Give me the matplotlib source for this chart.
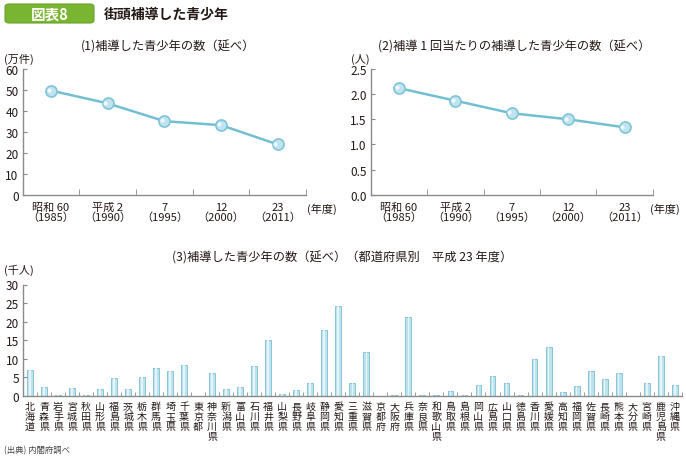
import numpy as np
import matplotlib.pyplot as plt
from matplotlib.patches import FancyBboxPatch

plt.rcParams['font.family'] = ['Noto Sans CJK JP', 'DejaVu Sans']

# data
years = ['昭和 60\n（1985）', '平成 2\n（1990）', '7\n（1995）', '12\n（2000）', '23\n（2011）']
youth_count = [49.7, 43.6, 35.1, 33.2, 24.0]   # 万件
per_guidance = [2.12, 1.87, 1.62, 1.50, 1.34]  # 人

prefs = ['北海道', '青森県', '岩手県', '宮城県', '秋田県', '山形県', '福島県', '茨城県',
         '栃木県', '群馬県', '埼玉県', '千葉県', '東京都', '神奈川県', '新潟県', '富山県',
         '石川県', '福井県', '山梨県', '長野県', '岐阜県', '静岡県', '愛知県', '三重県',
         '滋賀県', '京都府', '大阪府', '兵庫県', '奈良県', '和歌山県', '鳥取県', '島根県',
         '岡山県', '広島県', '山口県', '徳島県', '香川県', '愛媛県', '高知県', '福岡県',
         '佐賀県', '長崎県', '熊本県', '大分県', '宮崎県', '鹿児島県', '沖縄県']
pref_vals = [6.9, 2.4, 0.2, 2.1, 0.1, 1.9, 4.8, 1.8,
             5.1, 7.5, 6.7, 8.3, 0.0, 6.0, 1.8, 2.4,
             7.9, 14.9, 0.4, 1.5, 3.5, 17.8, 24.2, 3.4,
             11.9, 0.0, 0.1, 21.2, 0.1, 0.1, 1.2, 0.2,
             2.9, 5.3, 3.3, 0.2, 10.0, 13.2, 1.0, 2.6,
             6.7, 4.5, 6.1, 0.0, 3.5, 10.6, 2.8]

W, H = 686, 460
fig = plt.figure(figsize=(W / 100, H / 100), dpi=100)

line_c = '#72bfd3'
axis_c = '#8a8a8a'
txt_c = '#231815'


def fx(px):
    return px / W


def fy(py):
    return 1 - py / H


def style_axes(ax):
    ax.spines['top'].set_visible(False)
    ax.spines['right'].set_visible(False)
    for s in ('left', 'bottom'):
        ax.spines[s].set_color(axis_c)
        ax.spines[s].set_linewidth(1.0)
    ax.tick_params(axis='y', direction='in', length=3, color=axis_c,
                   labelsize=8.5, labelcolor=txt_c, pad=3)
    ax.patch.set_alpha(0)


def line_chart(left, right, vals, ymax, step, fmt):
    ax = fig.add_axes([fx(left), fy(195.7), fx(right - left), fy(70) - fy(195.7)])
    x = np.arange(len(vals))
    ax.plot(x, vals, color=line_c, lw=1.8, zorder=2)
    ax.plot(x, vals, 'o', ms=8, mfc='#bfe4ef', mec='#7fc4d7', mew=1.2, zorder=3)
    ax.plot(x - 0.04, np.array(vals) + ymax * 0.006, 'o', ms=3, mfc='white',
            mec='none', alpha=0.8, zorder=4)
    ax.set_xlim(-0.5, len(vals) - 0.5)
    ax.set_ylim(0, ymax)
    ticks = np.arange(0, ymax + step / 2, step)
    ax.set_yticks(ticks)
    ax.set_yticklabels([fmt.format(v) for v in ticks])
    ax.set_xticks(x)
    ax.set_xticklabels(years, fontsize=8, color=txt_c, linespacing=1.0)
    ax.set_xticks(np.arange(-0.5, len(vals)), minor=True)
    style_axes(ax)
    ax.tick_params(axis='x', which='major', length=0, pad=5)
    ax.tick_params(axis='x', which='minor', direction='in', length=4, color=axis_c)
    return ax


line_chart(22.7, 306, youth_count, 60, 10, '{:.0f}')
line_chart(370.7, 652.7, per_guidance, 2.5, 0.5, '{:.1f}')

# bar chart
ax3 = fig.add_axes([fx(23), fy(396.7), fx(681.7 - 23), fy(285.5) - fy(396.7)])
xb = np.arange(len(prefs))
ax3.bar(xb, pref_vals, width=0.42, color='#bfe3ee', edgecolor='#86c6d9', lw=0.7)
ax3.bar(xb, pref_vals, width=0.12, color='#e6f4f8', edgecolor='none')
ax3.set_xlim(-0.5, len(prefs) - 0.5)
ax3.set_ylim(0, 30)
ax3.set_yticks(range(0, 31, 5))
ax3.set_xticks(xb)
ax3.set_xticklabels(['\n'.join(p) for p in prefs], fontsize=7.2, color=txt_c,
                    linespacing=0.98, va='top')
ax3.set_xticks(np.arange(-0.5, len(prefs)), minor=True)
style_axes(ax3)
ax3.tick_params(axis='x', which='major', length=0, pad=4)
ax3.tick_params(axis='x', which='minor', direction='in', length=3, color=axis_c)

# header
box = FancyBboxPatch((fx(5), fy(24)), fx(89), fy(5) - fy(24),
                     boxstyle='round,pad=0,rounding_size=0.006',
                     transform=fig.transFigure, fc='#79b530', ec='#6aa22a', lw=0.8)
fig.patches.append(box)
fig.text(fx(50), fy(14.5), '図表8', color='white', fontsize=10.5, fontweight='bold',
         ha='center', va='center')
fig.text(fx(104), fy(14.5), '街頭補導した青少年', color=txt_c, fontsize=10,
         fontweight='bold', ha='left', va='center')

# sub titles
fig.text(fx(168), fy(47), '(1)補導した青少年の数（延べ）', fontsize=8.8, color=txt_c,
         ha='center', va='center')
fig.text(fx(514), fy(47), '(2)補導 1 回当たりの補導した青少年の数（延べ）', fontsize=8.8,
         color=txt_c, ha='center', va='center')
fig.text(fx(342), fy(258), '(3)補導した青少年の数（延べ）（都道府県別　平成 23 年度）',
         fontsize=8.8, color=txt_c, ha='center', va='center')

# units
fig.text(fx(4), fy(59), '(万件)', fontsize=8, color=txt_c, ha='left', va='center')
fig.text(fx(351), fy(59), '(人)', fontsize=8, color=txt_c, ha='left', va='center')
fig.text(fx(4), fy(270), '(千人)', fontsize=8, color=txt_c, ha='left', va='center')
fig.text(fx(307), fy(209), '(年度)', fontsize=8, color=txt_c, ha='left', va='center')
fig.text(fx(650), fy(209), '(年度)', fontsize=8, color=txt_c, ha='left', va='center')

fig.text(fx(4), fy(451), '(出典) 内閣府調べ', fontsize=6, color='#444444',
         ha='left', va='center')

fig.savefig('out.png', dpi=100)
